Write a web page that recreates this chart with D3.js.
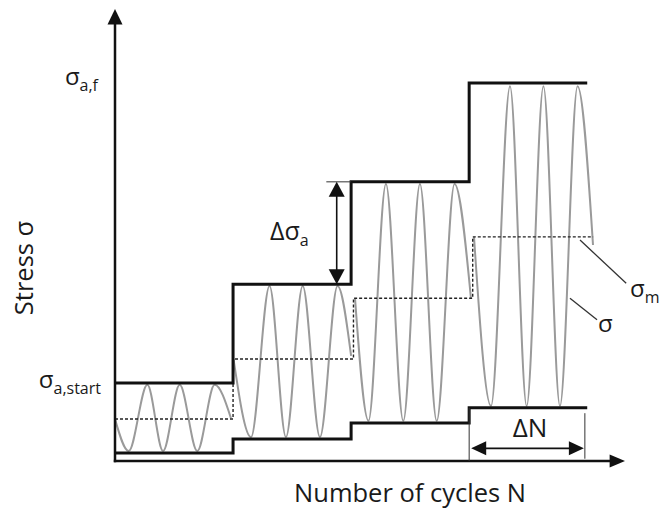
<!DOCTYPE html>
<html><head><meta charset="utf-8">
<script src="https://cdn.jsdelivr.net/npm/d3@7"></script>
<style>
body{margin:0;background:#fff}
svg{display:block}
text{font-family:"Open Sans",sans-serif;fill:#1a1a1a}
</style>
</head><body><svg id="c" width="664" height="511"></svg>
<script>
// ---------------- data (abstract units: N in blocks of ΔN, stress in % of axis) -------------
const stepBounds   = [0, 1, 2, 3, 4];
const upperLevels  = [17.3, 39.2, 61.9, 83.8];
const lowerLevels  = [1.8, 4.9, 8.4, 11.8];
const meanBounds   = [0, 1.0, 2.02, 3.03, 4.05];
const meanLevels   = [9.3, 22.6, 36.1, 49.7];
// extrema of the oscillating stress signal in each block (start, trough, peak, ..., end)
const waveN = [
  [0.000, 0.116, 0.274, 0.407, 0.548, 0.697, 0.844, 0.982],
  [1.004, 1.152, 1.309, 1.448, 1.590, 1.736, 1.885, 2.000],
  [2.033, 2.147, 2.295, 2.442, 2.583, 2.725, 2.876, 3.015],
  [3.041, 3.185, 3.346, 3.487, 3.629, 3.769, 3.918, 4.049]
];
const waveSigma = [
  [9.3, 2.2, 16.9, 2.2, 16.9, 2.2, 16.9, 9.5],
  [22.6, 5.3, 38.8, 5.3, 38.8, 5.3, 38.8, 23.3],
  [36.1, 8.9, 61.4, 8.9, 61.4, 8.9, 61.4, 36.1],
  [49.7, 12.2, 83.1, 12.2, 83.1, 12.2, 83.1, 47.9]
];
const axisLabels = {x: "Number of cycles N", y: "Stress σ"};

// ---------------- scales ----------------
const svg = d3.select("#c");
const x = d3.scaleLinear().domain([0, 4.32]).range([115, 625]);
const y = d3.scaleLinear().domain([0, 100]).range([461, 10]);
const line = d3.line().x(d => x(d[0])).y(d => y(d[1]));

function stepPts(bounds, levels) {
  const p = [];
  levels.forEach((v, i) => { p.push([bounds[i], v]); p.push([bounds[i + 1], v]); });
  return p;
}

// ---------------- waves ----------------
const waveLine = d3.line().x(d => x(d[0])).y(d => y(d[1])).curve(d3.curveMonotoneX);
waveN.forEach((ns, i) => {
  svg.append("path")
    .attr("d", waveLine(ns.map((n, j) => [n, waveSigma[i][j]])))
    .attr("fill", "none").attr("stroke", "#9a9a9a").attr("stroke-width", 2);
});

// mean (dashed)
svg.append("path").attr("d", line(stepPts(meanBounds, meanLevels)))
  .attr("fill", "none").attr("stroke", "#222").attr("stroke-width", 1.4)
  .attr("stroke-dasharray", "3,2");

// envelopes
[upperLevels, lowerLevels].forEach(lv => {
  svg.append("path").attr("d", line(stepPts(stepBounds, lv)))
    .attr("fill", "none").attr("stroke", "#111").attr("stroke-width", 3)
    .attr("stroke-linejoin", "miter");
});

// ---------------- axes ----------------
const ax = svg.append("g");
ax.append("line").attr("x1", x(0)).attr("x2", x(0)).attr("y1", y(0) + 1.2).attr("y2", y(97))
  .attr("stroke", "#111").attr("stroke-width", 2.5);
ax.append("path").attr("d", `M${x(0)},${y(100.2)}L${x(0) - 7.5},${y(96.8)}L${x(0) + 7.5},${y(96.8)}Z`).attr("fill", "#111");
ax.append("line").attr("x1", x(0) - 1.2).attr("x2", x(4.2)).attr("y1", y(0)).attr("y2", y(0))
  .attr("stroke", "#111").attr("stroke-width", 2.5);
ax.append("path").attr("d", `M${x(4.32)},${y(0)}L${x(4.19)},${y(0) - 6.5}L${x(4.19)},${y(0) + 6.5}Z`).attr("fill", "#111");

svg.append("text").attr("x", 410).attr("y", 502).attr("text-anchor", "middle")
  .attr("font-size", 25.5).text(axisLabels.x);
svg.append("text").attr("transform", "translate(33,268) rotate(-90)").attr("text-anchor", "middle")
  .attr("font-size", 25.5).text(axisLabels.y);

// y level labels
function sub(g, main, s, xx, yy, anchor, fs) {
  const t = g.append("text").attr("x", xx).attr("y", yy).attr("text-anchor", anchor || "start");
  t.append("tspan").attr("font-size", fs || 24).text(main);
  t.append("tspan").attr("font-size", 16).attr("dy", 6).text(s);
  return t;
}
sub(svg, "σ", "a,f", 98, y(83.8) + 2, "end");
sub(svg, "σ", "a,start", 101, y(17.3) + 5, "end");

// Δσa annotation
const arrowX = x(1.878);
svg.append("line").attr("x1", x(1.79)).attr("x2", x(2)).attr("y1", y(61.9)).attr("y2", y(61.9))
  .attr("stroke", "#333").attr("stroke-width", 1);
svg.append("line").attr("x1", arrowX).attr("x2", arrowX).attr("y1", y(61.9) + 12).attr("y2", y(39.2) - 12)
  .attr("stroke", "#111").attr("stroke-width", 1.6);
svg.append("path").attr("d", `M${arrowX},${y(61.9)}L${arrowX - 8},${y(61.9) + 15}L${arrowX + 8},${y(61.9) + 15}Z`).attr("fill", "#111");
svg.append("path").attr("d", `M${arrowX},${y(39.2)}L${arrowX - 8},${y(39.2) - 15}L${arrowX + 8},${y(39.2) - 15}Z`).attr("fill", "#111");
sub(svg, "Δσ", "a", 270, 240, "start", 25);

// ΔN annotation
svg.append("line").attr("x1", x(3)).attr("x2", x(3)).attr("y1", y(11.8)).attr("y2", y(0))
  .attr("stroke", "#333").attr("stroke-width", 1);
svg.append("line").attr("x1", x(3.98)).attr("x2", x(3.98)).attr("y1", y(10.6)).attr("y2", y(0.5))
  .attr("stroke", "#333").attr("stroke-width", 1);
const ay = y(2.8);
svg.append("line").attr("x1", x(3) + 14).attr("x2", x(3.98) - 14).attr("y1", ay).attr("y2", ay)
  .attr("stroke", "#111").attr("stroke-width", 1.6);
svg.append("path").attr("d", `M${x(3) + 2},${ay}L${x(3) + 17},${ay - 7}L${x(3) + 17},${ay + 7}Z`).attr("fill", "#111");
svg.append("path").attr("d", `M${x(3.98) - 1},${ay}L${x(3.98) - 16},${ay - 7}L${x(3.98) - 16},${ay + 7}Z`).attr("fill", "#111");
svg.append("text").attr("x", 530).attr("y", 437).attr("text-anchor", "middle").attr("font-size", 26).text("ΔN");

// leaders σm and σ
svg.append("line").attr("x1", x(3.939)).attr("y1", y(49.0)).attr("x2", x(4.33)).attr("y2", y(39.4))
  .attr("stroke", "#333").attr("stroke-width", 1.3);
sub(svg, "σ", "m", 630, 297, "start");
svg.append("line").attr("x1", x(3.854)).attr("y1", y(36.1)).attr("x2", x(4.083)).attr("y2", y(31.3))
  .attr("stroke", "#333").attr("stroke-width", 1.3);
svg.append("text").attr("x", 598).attr("y", 332).attr("font-size", 24).text("σ");
</script></body></html>
